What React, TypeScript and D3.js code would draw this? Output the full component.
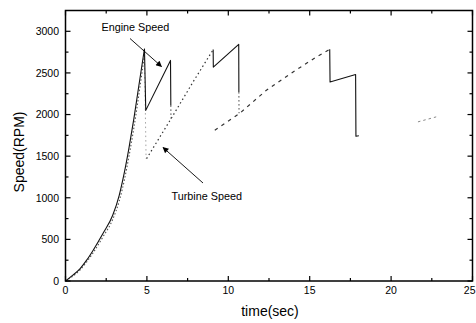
import React from "react";
import * as d3 from "d3";

// Engine speed during launch (1st gear), smooth rise
const engineLaunchTime = [0, 0.45, 0.9, 1.3, 1.7, 2.3, 2.9, 3.3, 3.6, 3.9, 4.2, 4.5, 4.85];
const engineLaunchRpm = [0, 70, 150, 250, 370, 570, 790, 1030, 1290, 1600, 1950, 2340, 2790];

// Engine speed around each upshift (solid traces)
const engineShift1Time = [4.85, 4.93, 6.45, 6.47];
const engineShift1Rpm = [2790, 2050, 2650, 2110];
const engineShift2Time = [9.07, 9.08, 10.64, 10.65];
const engineShift2Rpm = [2780, 2570, 2844, 2270];
const engineShift3Time = [16.23, 16.25, 17.82, 17.84, 18.02];
const engineShift3Rpm = [2784, 2392, 2480, 1740, 1745];

// Short dotted joins where engine speed falls onto turbine speed
const engineJoin1Time = [6.47, 6.48];
const engineJoin1Rpm = [2110, 1950];
const engineJoin2Time = [10.65, 10.66];
const engineJoin2Rpm = [2270, 2016];

// Turbine speed, 1st gear (dotted, just under engine speed)
const turbineGear1Time = [0, 0.9, 1.7, 2.3, 2.9, 3.3, 3.6, 3.9, 4.2, 4.5, 4.85];
const turbineGear1Rpm = [0, 135, 340, 530, 740, 960, 1200, 1500, 1840, 2230, 2720];

// Turbine speed, 2nd gear (dotted)
const turbineGear2Time = [4.98, 6.5, 7.8, 9.07];
const turbineGear2Rpm = [1470, 1955, 2380, 2780];

// Turbine speed, 3rd gear (dashed)
const turbineGear3Time = [9.17, 10.71, 12.34, 13.98, 15.41, 16.23];
const turbineGear3Rpm = [1812, 2016, 2292, 2512, 2692, 2784];

// Turbine speed, 4th gear (faint)
const turbineGear4Time = [21.65, 22.77];
const turbineGear4Rpm = [1912, 1972];

const xMajorTicks = [0, 5, 10, 15, 20, 25];
const xMinorTicks = [2.5, 7.5, 12.5, 17.5, 22.5];
const yMajorTicks = [0, 500, 1000, 1500, 2000, 2500, 3000];
const yMinorTicks = [250, 750, 1250, 1750, 2250, 2750];

const W = 476;
const H = 323;
const left = 65.5;
const right = 472.5;
const top = 10.5;
const bottom = 281;

const x = d3.scaleLinear().domain([0, 25]).range([left, right]);
const y = d3.scaleLinear().domain([0, 3250]).range([bottom, top]);

const zip = (t: number[], v: number[]) => t.map((d, i) => [d, v[i]] as [number, number]);

const linear = d3
  .line<[number, number]>()
  .x((d) => x(d[0]))
  .y((d) => y(d[1]));
const smooth = d3
  .line<[number, number]>()
  .x((d) => x(d[0]))
  .y((d) => y(d[1]))
  .curve(d3.curveMonotoneX);

const font = "'Liberation Sans', Arial, sans-serif";

export default function App() {
  const major = 5;
  const minor = 3;
  return (
    <svg
      width={W}
      height={H}
      style={{ position: "absolute", left: 0, top: 0, background: "#fff" }}
      fontFamily={font}
    >
      <defs>
        <marker
          id="arrowHead"
          viewBox="0 0 10 10"
          refX="9"
          refY="5"
          markerWidth="7"
          markerHeight="6"
          orient="auto"
          markerUnits="userSpaceOnUse"
        >
          <path d="M0,0 L10,5 L0,10 z" fill="#000" />
        </marker>
      </defs>

      {/* traces */}
      <g fill="none" strokeLinejoin="round">
        <path d={smooth(zip(turbineGear1Time, turbineGear1Rpm)) ?? ""} stroke="#555" strokeWidth={1.1} strokeDasharray="1.5,2" />
        <path d={linear(zip([4.85, 4.95], [2720, 1470])) ?? ""} stroke="#999" strokeWidth={0.9} strokeDasharray="1.5,3" />
        <path d={linear(zip(turbineGear2Time, turbineGear2Rpm)) ?? ""} stroke="#333" strokeWidth={1.2} strokeDasharray="1.5,2.8" />
        <path d={linear(zip(turbineGear3Time, turbineGear3Rpm)) ?? ""} stroke="#333" strokeWidth={1.2} strokeDasharray="3.5,4.5" />
        <path d={linear(zip(turbineGear4Time, turbineGear4Rpm)) ?? ""} stroke="#888" strokeWidth={1} strokeDasharray="2.5,3" />
        <path d={smooth(zip(engineLaunchTime, engineLaunchRpm)) ?? ""} stroke="#111" strokeWidth={1.1} />
        <path d={linear(zip(engineShift1Time, engineShift1Rpm)) ?? ""} stroke="#111" strokeWidth={1.1} />
        <path d={linear(zip(engineShift2Time, engineShift2Rpm)) ?? ""} stroke="#111" strokeWidth={1.1} />
        <path d={linear(zip(engineShift3Time, engineShift3Rpm)) ?? ""} stroke="#111" strokeWidth={1.1} />
        <path d={linear(zip(engineJoin1Time, engineJoin1Rpm)) ?? ""} stroke="#444" strokeWidth={1} strokeDasharray="1.5,2.5" />
        <path d={linear(zip(engineJoin2Time, engineJoin2Rpm)) ?? ""} stroke="#444" strokeWidth={1} strokeDasharray="1.5,2.5" />
      </g>

      {/* frame */}
      <rect x={left} y={top} width={right - left} height={bottom - top} fill="none" stroke="#000" strokeWidth={1.5} />

      {/* ticks, pointing inward on all four sides */}
      <g stroke="#000" strokeWidth={1.2}>
        {xMajorTicks.map((t) => (
          <g key={"xM" + t}>
            <line x1={x(t)} x2={x(t)} y1={bottom} y2={bottom - major} />
            <line x1={x(t)} x2={x(t)} y1={top} y2={top + major} />
          </g>
        ))}
        {xMinorTicks.map((t) => (
          <g key={"xm" + t}>
            <line x1={x(t)} x2={x(t)} y1={bottom} y2={bottom - minor} />
            <line x1={x(t)} x2={x(t)} y1={top} y2={top + minor} />
          </g>
        ))}
        {yMajorTicks.map((v) => (
          <g key={"yM" + v}>
            <line x1={left} x2={left + major} y1={y(v)} y2={y(v)} />
            <line x1={right} x2={right - major} y1={y(v)} y2={y(v)} />
          </g>
        ))}
        {yMinorTicks.map((v) => (
          <g key={"ym" + v}>
            <line x1={left} x2={left + minor} y1={y(v)} y2={y(v)} />
            <line x1={right} x2={right - minor} y1={y(v)} y2={y(v)} />
          </g>
        ))}
      </g>

      {/* tick labels; the last one is pulled in so it stays inside the canvas */}
      <g fontSize={10.5} fill="#000">
        {xMajorTicks.map((t, i) => (
          <text
            key={"xl" + t}
            x={i === xMajorTicks.length - 1 ? W - 0.5 : x(t)}
            y={294}
            textAnchor={i === xMajorTicks.length - 1 ? "end" : "middle"}
          >
            {t}
          </text>
        ))}
        {yMajorTicks.map((v) => (
          <text key={"yl" + v} x={59} y={y(v) + 3.8} textAnchor="end">
            {v}
          </text>
        ))}
      </g>

      {/* axis titles */}
      <text x={270} y={316} textAnchor="middle" fontSize={14}>
        time(sec)
      </text>
      <text transform="translate(23.5,152) rotate(-90)" textAnchor="middle" fontSize={14}>
        Speed(RPM)
      </text>

      {/* annotations */}
      <text x={101.5} y={31} fontSize={10.8}>
        Engine Speed
      </text>
      <line x1={130} y1={38.5} x2={161.5} y2={66.5} stroke="#000" strokeWidth={0.9} markerEnd="url(#arrowHead)" />
      <text x={171.5} y={200} fontSize={10.8}>
        Turbine Speed
      </text>
      <line x1={203} y1={183} x2={163} y2={147.5} stroke="#000" strokeWidth={0.9} markerEnd="url(#arrowHead)" />
    </svg>
  );
}
